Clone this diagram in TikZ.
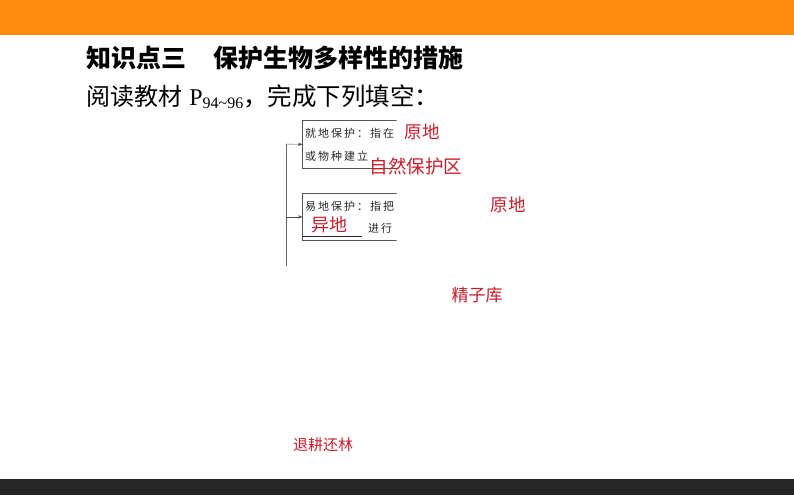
\documentclass[tikz,border=0pt]{standalone}
\usepackage{fontspec}
\setmainfont{Liberation Serif}
\newfontfamily\cjk{Noto Sans CJK SC}
\newfontfamily\cjkkuan[LetterSpace=18]{Noto Sans CJK SC}
\usetikzlibrary{arrows}
\definecolor{cheng}{RGB}{255,138,12}
\definecolor{hei}{RGB}{38,38,38}
\definecolor{hong}{RGB}{200,28,40}
\definecolor{kuangRand}{RGB}{85,85,85}
\tikzstyle{answer} = [text=hong,inner sep=0pt]
\tikzstyle{kuang} = [draw=kuangRand,line width=0.8pt,rectangle,minimum width=130pt,anchor=north west,inner sep=0pt]
\tikzstyle{zeile} = [anchor=west,inner sep=0pt,text=black!85,font=\cjkkuan\fontsize{11}{11}\selectfont]
\tikzstyle{edge} = [->,thin,draw=black!70,>=stealth']

\begin{document}
\begin{tikzpicture}[x=1pt,y=-1pt]
\useasboundingbox (0,0) rectangle (794,495);
\fill[cheng] (0,0) rectangle (794,35);
\fill[hei] (0,479) rectangle (794,495);

\node[anchor=west,inner sep=0pt,font=\cjk\bfseries\fontsize{25}{25}\selectfont] (titel) at (86,58) {知识点三\hspace{1.1em}保护生物多样性的措施};
\node[anchor=west,inner sep=0pt,font=\fontsize{24}{24}\selectfont] (lesen) at (86,97) {{\cjk 阅读教材}\hspace{0.3em}P\raisebox{-0.3ex}{\fontsize{16}{16}\selectfont 94\textasciitilde 96}{\cjk\fontsize{24.5}{25}\selectfont ，完成下列填空：}};

\begin{scope}
\clip (280,110) rectangle (396.5,250);
\node[kuang,minimum height=48pt] (jiudi) at (302,120) {};
\node[zeile] (jiudi1) at (305,133) {就地保护：指在};
\node[zeile] (jiudi2) at (305,156) {或物种建立};

\node[kuang,minimum height=47pt] (yidi) at (302,193) {};
\node[zeile] (yidi1) at (305,206) {易地保护：指把};
\node[zeile] (yidi2) at (368,228) {进行};
\end{scope}
\draw[draw=black!85,thin] (303,236) -- (362,236);

\coordinate (stamm) at (286,144);
\coordinate (fuss) at (286,266);
\draw[draw=black!60,thin] (stamm) -- (fuss);
\draw[edge] (stamm) -- (jiudi.west);
\draw[edge] (stamm |- yidi.west) -- (yidi.west);

\node[answer,font=\cjk\fontsize{17.5}{18}\selectfont] (yuandi1) at (422,132) {原地};
\node[answer,font=\cjk\fontsize{18.5}{19}\selectfont] (ziran) at (416,166) {自然保护区};
\node[answer,font=\cjk\fontsize{17.5}{18}\selectfont] (yuandi2) at (508,205) {原地};
\node[answer,font=\cjk\fontsize{18}{18}\selectfont] (yidiDa) at (329,225) {异地};
\node[answer,font=\cjk\fontsize{17}{17}\selectfont] (jingzi) at (477,295) {精子库};
\node[answer,font=\cjk\fontsize{15}{15}\selectfont] (tuigeng) at (323,445) {退耕还林};
\end{tikzpicture}
\end{document}
